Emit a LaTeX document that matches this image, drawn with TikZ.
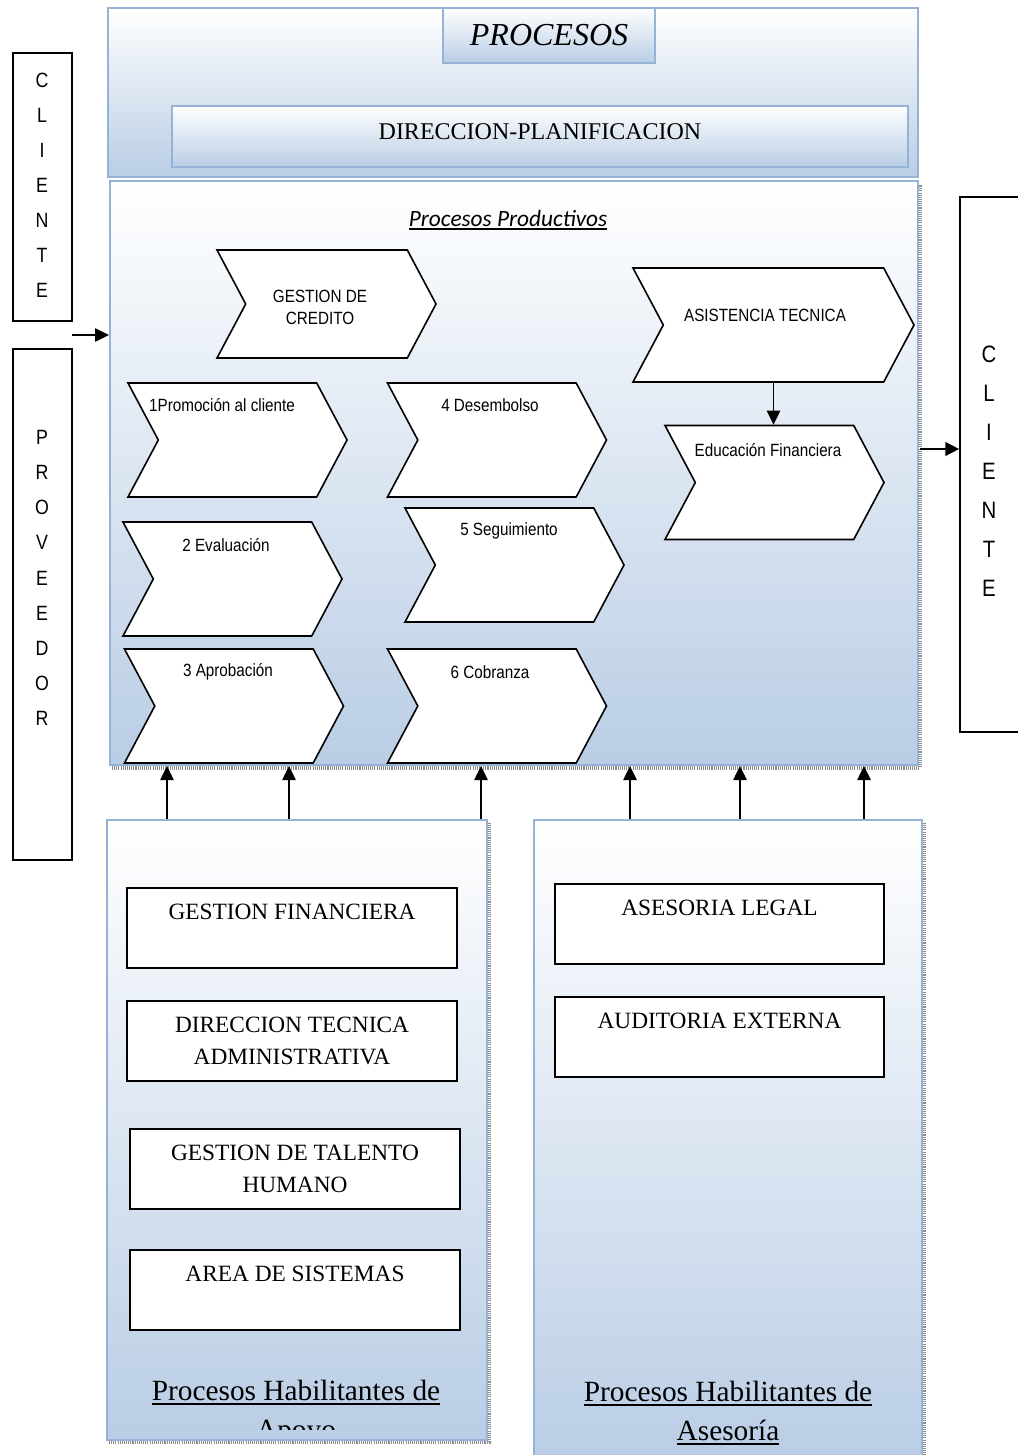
\documentclass[tikz,border=0pt]{standalone}
\usepackage{fontspec}
\setmainfont{Liberation Serif}
\newfontfamily\arialn[FakeStretch=0.86]{Liberation Sans}
\newfontfamily\calib{Carlito}
\usetikzlibrary{shapes.symbols,arrows.meta}
\definecolor{azulborde}{RGB}{149,179,215}
\definecolor{azulfondo}{RGB}{185,205,229}
\newcommand{\pu}{0.75pt}
\newcommand{\subrayado}[1]{\setbox0=\hbox{#1}\rlap{\rule[-3pt]{\wd0}{1.3pt}}\box0}

\begin{document}
\begin{tikzpicture}[x=0.75pt,y=-0.75pt,
  caja/.style={draw=azulborde,line width=1.5pt,top color=white,bottom color=azulfondo,inner sep=0pt},
  chevron/.style={signal,signal from=west,signal to=east,signal pointer angle=124,draw=black,line width=1.2pt,fill=white,inner sep=0pt,minimum width=219*\pu,minimum height=114*\pu},
  etiq/.style={font=\arialn\fontsize{13.3}{16.5}\selectfont,align=center},
  recuadro/.style={draw=black,line width=1.2pt,fill=white,minimum width=330*\pu,minimum height=80*\pu,inner sep=0pt,align=center,font=\fontsize{17.5}{24}\selectfont},
  letras/.style={align=center,font=\arialn\fontsize{15.5}{26.25}\selectfont},
  lado/.style={draw=black,line width=1pt,inner sep=0pt},
  sombra/.style={draw=black!45,line width=3pt,dash pattern=on 0.8pt off 0.8pt},
  flecha/.style={-{Triangle[length=10.5pt,width=10pt]},line width=1.1pt},
  titulo/.style={align=center,font=\fontsize{22}{29}\selectfont}]

	\useasboundingbox (0,0) rectangle (1017,1455);

	\draw[sombra] (112,768) -- (920,768) -- (920,185);
	\draw[sombra] (109,1442) -- (489,1442) -- (489,823);
	\draw[sombra] (924,823) -- (924,1455);

	\node[caja,minimum width=810*\pu,minimum height=169*\pu] (procesos) at (513,92.5) {};
	\node[caja,minimum width=212*\pu,minimum height=55*\pu,font=\itshape\fontsize{24}{28}\selectfont] (titulo) at (549,35.5) {PROCESOS};
	\node[caja,minimum width=736*\pu,minimum height=61*\pu,text depth=7pt,font=\fontsize{18}{20}\selectfont] (direccion) at (540,136.5) {DIRECCION-PLANIFICACION};
	\node[caja,minimum width=808*\pu,minimum height=584*\pu] (productivos) at (514,473) {};
	\node[caja,minimum width=380*\pu,minimum height=620*\pu] (apoyo) at (297,1130) {};
	\node[caja,minimum width=388*\pu,minimum height=645*\pu] (asesoria) at (728,1142.5) {};

	\node[font=\calib\itshape\fontsize{17.5}{20}\selectfont] (tproductivos) at (508,220) {\subrayado{Procesos Productivos}};

	\node[chevron,minimum height=108*\pu] (credito) at (326.5,304) {};
	\node[chevron] (promocion) at (237.5,440) {};
	\node[chevron] (desembolso) at (497,440) {};
	\node[chevron] (evaluacion) at (232.5,579) {};
	\node[chevron] (seguimiento) at (514.5,565) {};
	\node[chevron] (aprobacion) at (234,706) {};
	\node[chevron] (cobranza) at (497,706) {};
	\node[chevron,minimum width=281*\pu] (asistencia) at (773.5,325) {};
	\node[chevron] (educacion) at (774.5,482.5) {};

	\node[etiq] (tcredito) at (320,307) {GESTION DE\\CREDITO};
	\node[etiq] (tpromocion) at (222,405) {1Promoción al cliente};
	\node[etiq] (tdesembolso) at (490,405) {4 Desembolso};
	\node[etiq] (tevaluacion) at (226,545) {2 Evaluación};
	\node[etiq] (tseguimiento) at (509,531) {5 Seguimiento};
	\node[etiq] (taprobacion) at (228,672) {3 Aprobación};
	\node[etiq] (tcobranza) at (490,672) {6 Cobranza};
	\node[etiq] (tasistencia) at (765,315) {ASISTENCIA TECNICA};
	\node[etiq] (teducacion) at (768,450) {Educación Financiera};

	\node[lado,minimum width=59*\pu,minimum height=268*\pu] (cliente) at (42.5,187) {};
	\node[letras] (lcliente) at (42,185) {C\\L\\I\\E\\N\\T\\E};
	\node[lado,minimum width=59*\pu,minimum height=511*\pu] (proveedor) at (42.5,604.5) {};
	\node[letras,font=\arialn\fontsize{15.5}{26.4}\selectfont] (lproveedor) at (42,578) {P\\R\\O\\V\\E\\E\\D\\O\\R};
	\node[lado,minimum width=80*\pu,minimum height=535*\pu] (clientefinal) at (1000,464.5) {};
	\node[letras,font=\arialn\fontsize{17.8}{29.25}\selectfont] (lclientefinal) at (989,471) {C\\L\\I\\E\\N\\T\\E};

	\node[recuadro] (financiera) at (292,928) {GESTION FINANCIERA\\\mbox{}};
	\node[recuadro] (tecnica) at (292,1041) {DIRECCION TECNICA\\ADMINISTRATIVA};
	\node[recuadro] (talento) at (295,1169) {GESTION DE TALENTO\\HUMANO};
	\node[recuadro] (sistemas) at (295,1290) {AREA DE SISTEMAS\\\mbox{}};
	\node[recuadro,minimum width=329*\pu] (legal) at (719.5,924) {ASESORIA LEGAL\\\mbox{}};
	\node[recuadro,minimum width=329*\pu] (auditoria) at (719.5,1037) {AUDITORIA EXTERNA\\\mbox{}};

	\begin{scope}
		\clip (107,820) rectangle (487,1429);
		\node[titulo] (tapoyo) at (296,1413) {\subrayado{Procesos Habilitantes de}\\\subrayado{Apoyo}};
	\end{scope}
	\node[titulo] (tasesoria) at (728,1413) {\subrayado{Procesos Habilitantes de}\\\subrayado{Asesoría}};

	\foreach \x in {167,289,481}
		\draw[flecha] (apoyo.north -| \x,0) -- (productivos.south -| \x,0);
	\foreach \x in {630,740,864}
		\draw[flecha] (asesoria.north -| \x,0) -- (productivos.south -| \x,0);
	\draw[flecha] (asistencia.south) -- (asistencia.south |- educacion.north);

	\coordinate (entrada) at (72,335);
	\coordinate (salida) at (920,449);
	\draw[flecha] (entrada) -- (entrada -| productivos.west);
	\draw[flecha,line width=2.2pt] (salida) -- (salida -| clientefinal.west);

\end{tikzpicture}
\end{document}
